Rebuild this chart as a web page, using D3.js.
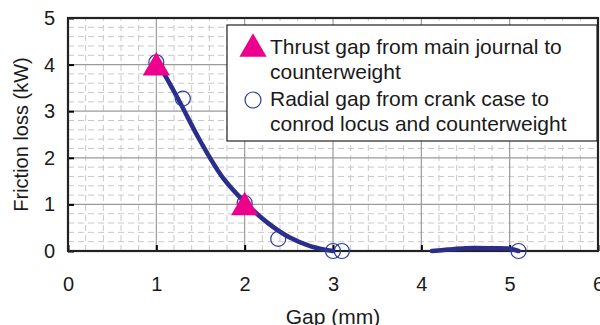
<!DOCTYPE html>
<html lang="en">
<head>
    <meta charset="UTF-8" />
    <title>Friction loss vs gap</title>
    <script src="https://d3js.org/d3.v7.min.js"></script>
    <style>
        body { margin: 0; background: #fff; }
        svg { display: block; font-family: "Liberation Sans", Arial, sans-serif; }
        .minor { stroke: #c8c8c8; stroke-width: 1; stroke-dasharray: 6 4; }
        .major { stroke: #9a9a9a; stroke-width: 1.2; }
    </style>
</head>
<body>
    <script>
        // data
        const xTicks = [0, 1, 2, 3, 4, 5, 6];
        const yTicks = [0, 1, 2, 3, 4, 5];
        const thrustGap = [1, 2];
        const thrustLoss = [4.0, 1.0];
        const radialGap = [1.0, 1.3, 2.0, 2.38, 3.0, 3.1, 5.1];
        const radialLoss = [4.05, 3.27, 1.03, 0.26, 0.0, 0.0, 0.0];
        // hand-drawn trend lines
        const trendA = [[1.0, 4.1], [1.25, 3.25], [1.5, 2.35], [1.75, 1.58], [2.0, 1.05], [2.25, 0.62], [2.5, 0.3], [2.75, 0.1], [3.0, 0.0]];
        const trendB = [[4.12, 0.0], [4.3, 0.03], [4.5, 0.06], [4.8, 0.06], [5.0, 0.05], [5.1, 0.0]];
        const legendLines = [
            ['Thrust gap from main journal to', 'counterweight'],
            ['Radial gap from crank case to', 'conrod locus and counterweight']
        ];

        const W = 600, H = 325;
        const m = { left: 68, right: 2, top: 18, bottom: 74 };

        const svg = d3.select('body').append('svg').attr('width', W).attr('height', H);

        const x = d3.scaleLinear().domain([0, 6]).range([m.left, W - m.right]);
        const y = d3.scaleLinear().domain([0, 5]).range([H - m.bottom, m.top]);

        // minor dashed grid
        const g = svg.append('g');
        g.selectAll('.mv').data(d3.range(0, 6.001, 0.2).filter(v => Math.abs(v - Math.round(v)) > 0.01))
            .enter().append('line').attr('class', 'minor')
            .attr('x1', d => x(d)).attr('x2', d => x(d)).attr('y1', y(0)).attr('y2', y(5));
        g.selectAll('.mh').data(d3.range(0, 5.001, 0.2).filter(v => Math.abs(v - Math.round(v)) > 0.01))
            .enter().append('line').attr('class', 'minor')
            .attr('y1', d => y(d)).attr('y2', d => y(d)).attr('x1', x(0)).attr('x2', x(6));
        // major grid
        g.selectAll('.Mv').data(xTicks.slice(1, -1)).enter().append('line').attr('class', 'major')
            .attr('x1', d => x(d)).attr('x2', d => x(d)).attr('y1', y(0)).attr('y2', y(5));
        g.selectAll('.Mh').data(yTicks.slice(1, -1)).enter().append('line').attr('class', 'major')
            .attr('y1', d => y(d)).attr('y2', d => y(d)).attr('x1', x(0)).attr('x2', x(6));

        // axes with inward ticks
        const xAxis = svg.append('g').attr('transform', `translate(0,${y(0)})`)
            .call(d3.axisBottom(x).tickValues(xTicks).tickFormat(d3.format('d')).tickSize(-6).tickPadding(26));
        const yAxis = svg.append('g').attr('transform', `translate(${x(0)},0)`)
            .call(d3.axisLeft(y).tickValues(yTicks).tickFormat(d3.format('d')).tickSize(-6).tickPadding(13));
        [xAxis, yAxis].forEach(a => {
            a.select('.domain').remove();
            a.selectAll('.tick line').attr('stroke', '#000').attr('stroke-width', 2);
            a.selectAll('.tick text').attr('font-size', 20).attr('fill', '#1a1a1a')
                .attr('font-family', '"Liberation Sans", Arial, sans-serif');
        });

        // frame
        svg.append('rect').attr('x', x(0)).attr('y', y(5))
            .attr('width', x(6) - x(0)).attr('height', y(0) - y(5))
            .attr('fill', 'none').attr('stroke', '#222').attr('stroke-width', 2.2);

        // axis titles
        svg.append('text').attr('x', (x(0) + x(6)) / 2).attr('y', 324)
            .attr('text-anchor', 'middle').attr('font-size', 21).attr('fill', '#1a1a1a').text('Gap (mm)');
        svg.append('text').attr('transform', `translate(28,${(y(0) + y(5)) / 2}) rotate(-90)`)
            .attr('text-anchor', 'middle').attr('font-size', 20).attr('fill', '#1a1a1a').text('Friction loss (kW)');

        // trend lines
        const line = d3.line().x(d => x(d[0])).y(d => y(d[1])).curve(d3.curveCatmullRom);
        [trendA, trendB].forEach(t => {
            svg.append('path').attr('d', line(t)).attr('fill', 'none')
                .attr('stroke', '#2b2d8c').attr('stroke-width', 4.5).attr('stroke-linecap', 'round');
        });

        // circles
        svg.selectAll('.rad').data(radialGap).enter().append('circle')
            .attr('cx', d => x(d)).attr('cy', (d, i) => y(radialLoss[i])).attr('r', 7.5)
            .attr('fill', 'none').attr('stroke', '#2b3aa0').attr('stroke-width', 1.2);

        // triangles (shifted so the box, not the centroid, sits on the value)
        const tri = d3.symbol().type(d3.symbolTriangle).size(320);
        svg.selectAll('.thr').data(thrustGap).enter().append('path')
            .attr('d', tri).attr('fill', '#ec008c')
            .attr('transform', (d, i) => `translate(${x(d)},${y(thrustLoss[i]) + 3})`);

        // legend
        const lg = svg.append('g');
        lg.append('rect').attr('x', 227).attr('y', 25).attr('width', 370).attr('height', 116)
            .attr('fill', '#fff').attr('stroke', '#222').attr('stroke-width', 1.2);
        lg.append('path').attr('d', tri).attr('fill', '#ec008c').attr('transform', 'translate(253,49)');
        lg.append('circle').attr('cx', 253).attr('cy', 100).attr('r', 8)
            .attr('fill', 'none').attr('stroke', '#2b3aa0').attr('stroke-width', 1.2);
        legendLines.forEach((pair, i) => {
            pair.forEach((s, j) => {
                lg.append('text').attr('x', 270).attr('y', 54 + i * 52 + j * 25)
                    .attr('font-size', 21).attr('fill', '#1a1a1a').text(s);
            });
        });
    </script>
</body>
</html>
